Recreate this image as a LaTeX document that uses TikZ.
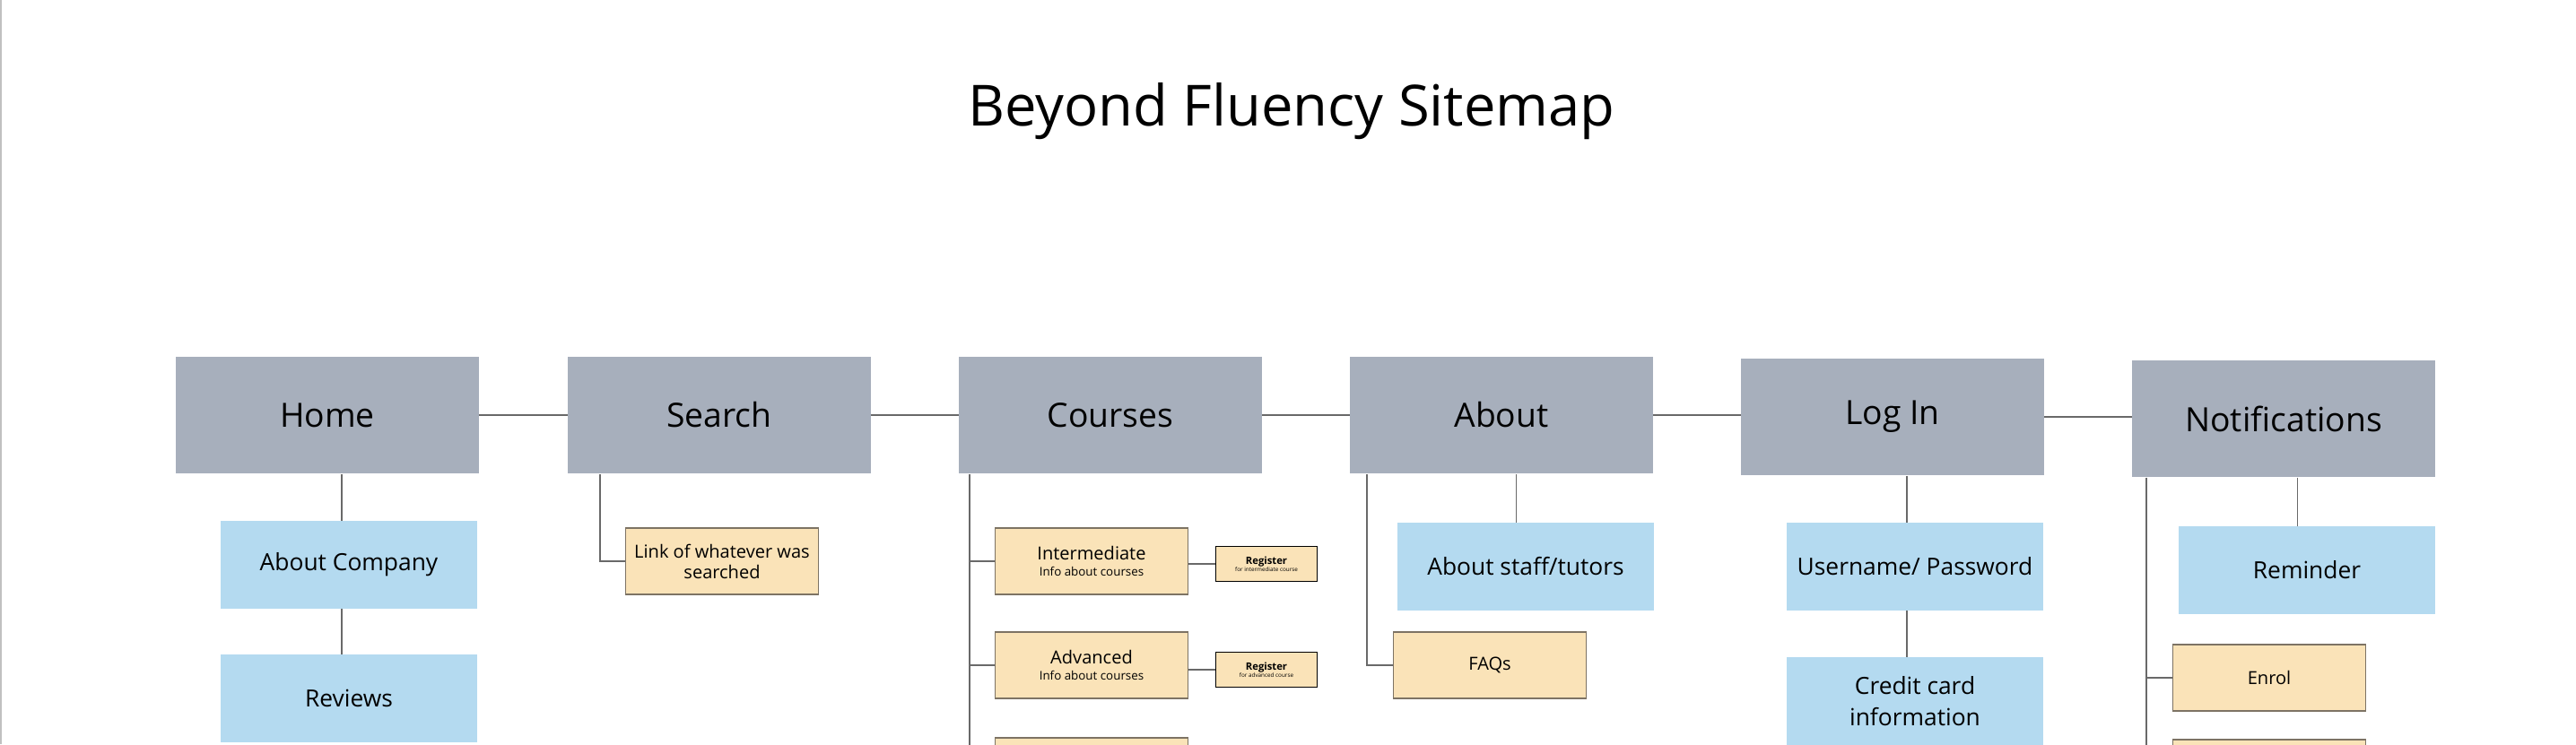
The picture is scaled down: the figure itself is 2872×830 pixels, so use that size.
\documentclass[tikz,border=0pt]{standalone}
\usepackage{fontspec}
\setmainfont{Open Sans}
\usetikzlibrary{calc}

\definecolor{headgray}{RGB}{167,175,188}
\definecolor{subblue}{RGB}{180,218,240}
\definecolor{leafbeige}{RGB}{250,227,184}
\definecolor{leafedge}{RGB}{125,115,100}
\definecolor{linkgray}{RGB}{105,105,105}
\definecolor{pageedge}{RGB}{192,192,192}

\begin{document}
\begin{tikzpicture}[x=0.01cm, y=-0.01cm,
  head/.style={fill=headgray, minimum width=3.37cm, minimum height=1.30cm,
    font=\fontsize{10.6}{12}\selectfont},
  sub/.style={fill=subblue, minimum width=2.85cm, minimum height=0.97cm,
    align=center, inner sep=1pt, font=\fontsize{7.5}{10}\selectfont},
  leaf/.style={draw=leafedge, line width=0.5pt, fill=leafbeige, minimum width=2.15cm,
    minimum height=0.74cm, align=center, inner sep=1pt, font=\fontsize{5.7}{6.5}\selectfont},
  reg/.style={draw=black, line width=0.5pt, fill=leafbeige, minimum width=1.13cm,
    minimum height=0.39cm, align=center, inner sep=0.5pt, font=\fontsize{3.2}{3.4}\selectfont},
  link/.style={draw=linkgray, line width=0.5pt}]

\useasboundingbox (0,0) rectangle (2872,830);
\fill[pageedge] (0,0) rectangle (2,830);

\node[font=\fontsize{18}{22}\selectfont, anchor=base] (title) at (1440,140)
  {Beyond Fluency Sitemap};

% ---- top row --------------------------------------------------------------
\node[head] (home)    at (365,463)  {Home};
\node[head] (search)  at (802,463)  {Search};
\node[head] (courses) at (1238,463) {Courses};
\node[head] (about)   at (1674,463) {About};
\node[head] (login)   at (2110,465) {Log In};
\node[head] (notif)   at (2546,467) {Notifications};

% ---- under Home -----------------------------------------------------------
\node[sub] (acomp)   at (389,630) {About Company};
\node[sub] (reviews) at (389,779) {Reviews};

% ---- under Search ---------------------------------------------------------
\node[leaf] (linkres) at (805,626) {Link of whatever was\\searched};

% ---- under Courses --------------------------------------------------------
\node[leaf] (inter) at (1217,626)
  {Intermediate\\[-1.6pt]{\fontsize{3.8}{4.5}\selectfont Info about courses}};
\node[leaf] (adv) at (1217,742)
  {Advanced\\[-1.6pt]{\fontsize{3.8}{4.5}\selectfont Info about courses}};
\node[leaf] (crs3) at (1217,860) {};
\node[reg] (reg1) at (1412,629)
  {{\bfseries Register}\\[-1.2pt]{\fontsize{1.8}{2}\selectfont for intermediate course}};
\node[reg] (reg2) at (1412,747)
  {{\bfseries Register}\\[-1.2pt]{\fontsize{1.8}{2}\selectfont for advanced course}};

% ---- under About ----------------------------------------------------------
\node[sub]  (staff) at (1701,632) {About staff/tutors};
\node[leaf] (faqs)  at (1661,742) {FAQs};

% ---- under Log In ---------------------------------------------------------
\node[sub] (userpw) at (2135,632) {Username/ Password};
\node[sub] (ccard)  at (2135,782) {Credit card\\information};

% ---- under Notifications --------------------------------------------------
\node[sub]  (remind) at (2572,636) {Reminder};
\node[leaf] (enrol)  at (2530,756) {Enrol};
\node[leaf] (notif2) at (2530,862) {};

% ---- connectors -----------------------------------------------------------
\draw[link] (home.east)    -- (home.east -| search.west);
\draw[link] (search.east)  -- (search.east -| courses.west);
\draw[link] (courses.east) -- (courses.east -| about.west);
\draw[link] (about.east)   -- (about.east -| login.west);
\draw[link] (login.east)   -- (login.east -| notif.west);

\draw[link] ([xshift=1.6mm]home.south) -- ([xshift=1.6mm]home.south |- acomp.north);
\draw[link] ([xshift=1.6mm]home.south |- acomp.south) -- ([xshift=1.6mm]home.south |- reviews.north);

\draw[link] ([xshift=3.6mm]search.south west) |- (linkres.west);

\draw[link] ([xshift=1.2mm]courses.south west) |- (inter.west);
\draw[link] ([xshift=1.2mm]courses.south west) |- (adv.west);
\draw[link] ([xshift=1.2mm]courses.south west) |- (crs3.west);
\draw[link] (inter.east |- reg1.west) -- (reg1.west);
\draw[link] (adv.east |- reg2.west)   -- (reg2.west);

\draw[link] ([xshift=1.65mm]about.south) -- ([xshift=1.65mm]about.south |- staff.north);
\draw[link] ([xshift=1.9mm]about.south west) |- (faqs.west);

\draw[link] ([xshift=1.6mm]login.south) -- ([xshift=1.6mm]login.south |- userpw.north);
\draw[link] ([xshift=1.6mm]login.south |- userpw.south) -- ([xshift=1.6mm]login.south |- ccard.north);

\draw[link] ([xshift=1.55mm]notif.south) -- ([xshift=1.55mm]notif.south |- remind.north);
\draw[link] ([xshift=1.6mm]notif.south west) |- (enrol.west);
\draw[link] ([xshift=1.6mm]notif.south west) |- (notif2.west);

\end{tikzpicture}
\end{document}
